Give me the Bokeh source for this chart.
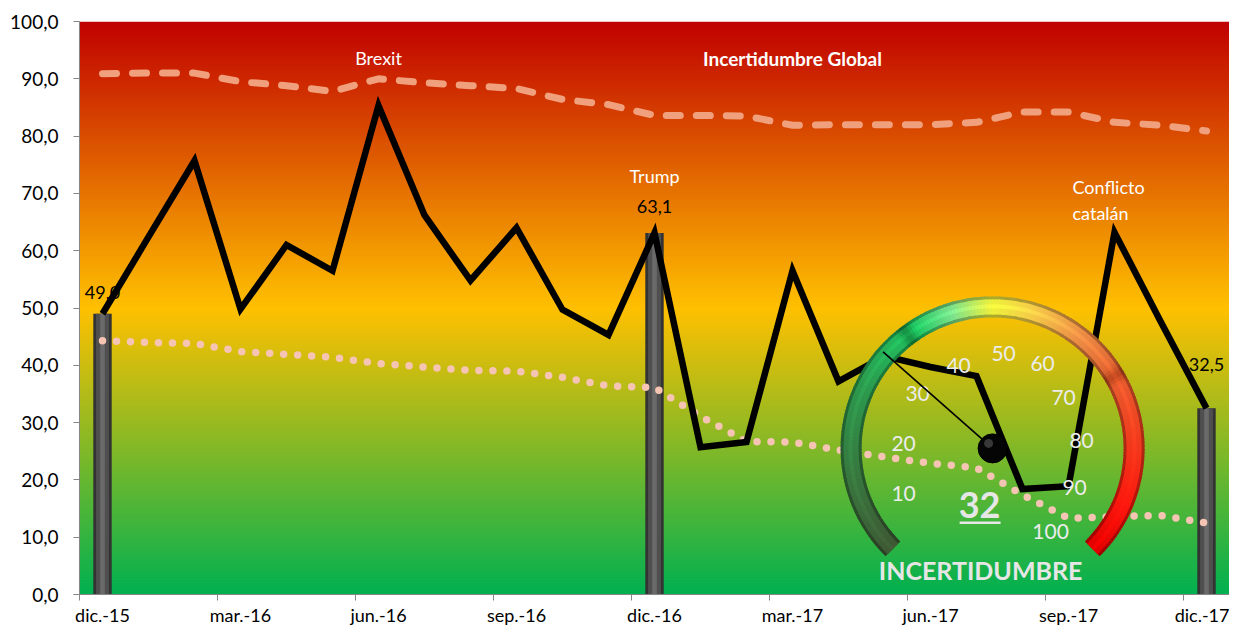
import math
import numpy as np
from bokeh.plotting import figure
from bokeh.models import FixedTicker
from bokeh.core.properties import value
from bokeh.embed import file_html
from bokeh.resources import INLINE

# ---------------- data ----------------
months = ["dic.-15", "ene.-16", "feb.-16", "mar.-16", "abr.-16", "may.-16",
          "jun.-16", "jul.-16", "ago.-16", "sep.-16", "oct.-16", "nov.-16",
          "dic.-16", "ene.-17", "feb.-17", "mar.-17", "abr.-17", "may.-17",
          "jun.-17", "jul.-17", "ago.-17", "sep.-17", "oct.-17", "nov.-17",
          "dic.-17"]
incertidumbre = [49.0, 62.4, 75.7, 49.8, 61.0, 56.5, 85.3, 66.2, 54.8, 64.0,
                 49.7, 45.3, 63.1, 25.7, 26.6, 56.5, 37.2, 41.6, 39.7, 38.1,
                 18.4, 18.9, 63.2, 47.7, 32.5]
incertidumbre_global = [90.9, 91.0, 91.0, 89.5, 88.8, 87.8, 90.0, 89.3, 88.8,
                        88.3, 86.4, 85.5, 83.6, 83.6, 83.5, 81.9, 82.0, 82.0,
                        82.0, 82.4, 84.2, 84.2, 82.4, 81.9, 80.9]
tendencia = [44.3, 44.0, 43.8, 42.4, 41.9, 41.4, 40.3, 39.7, 39.1, 39.0, 37.9,
             36.4, 36.1, 31.1, 26.7, 26.6, 25.2, 24.0, 22.9, 22.1, 17.4, 13.3,
             13.6, 13.8, 12.5]
bar_months = ["dic.-15", "dic.-16", "dic.-17"]
bar_values = [49.0, 63.1, 32.5]
bar_labels = ["49,0", "63,1", "32,5"]
tick_months = ["dic.-15", "mar.-16", "jun.-16", "sep.-16", "dic.-16",
               "mar.-17", "jun.-17", "sep.-17", "dic.-17"]
y_ticks = [0, 10, 20, 30, 40, 50, 60, 70, 80, 90, 100]
gauge_value = 32
gauge_scale = [10, 20, 30, 40, 50, 60, 70, 80, 90, 100]

# ---------------- layout / style ----------------
W, H = 1229, 628
LEFT, RIGHT, TOP, BOTTOM = 79, 0, 21, 30
FW = W - LEFT - RIGHT
FH = H - TOP - BOTTOM
n = len(months)
PX = FW / n
PY = FH / 100.0
FONT = "Lato"
idx = {m: i for i, m in enumerate(months)}
xs = list(range(n))

p = figure(width=W, height=H, x_range=(-0.5, n - 0.5), y_range=(0, 100),
           output_backend="svg", toolbar_location=None,
           min_border_left=LEFT, min_border_right=RIGHT,
           min_border_top=TOP, min_border_bottom=BOTTOM)
p.outline_line_color = None
p.background_fill_color = "white"

# gradient background (red -> gold -> green)
def lerp(c1, c2, t):
    return tuple(int(round(a + (b - a) * t)) for a, b in zip(c1, c2))

def bg_color(v):
    stops = [(0, (0, 176, 80)), (50, (255, 192, 0)), (100, (192, 0, 0))]
    for (v0, c0), (v1, c1) in zip(stops[:-1], stops[1:]):
        if v <= v1:
            return "#%02x%02x%02x" % lerp(c0, c1, (v - v0) / (v1 - v0))
    return "#%02x%02x%02x" % stops[-1][1]

edges = np.linspace(0, 100, 201)
mids = (edges[:-1] + edges[1:]) / 2
p.quad(left=-0.5, right=n - 0.5, bottom=edges[:-1], top=np.minimum(edges[1:] + 0.15, 100),
       fill_color=[bg_color(v) for v in mids], line_color=None)

# grid
p.xgrid.grid_line_color = None
p.ygrid.ticker = FixedTicker(ticks=y_ticks)
p.ygrid.grid_line_color = "#8c8c8c"
p.ygrid.grid_line_width = 1
p.ygrid.level = "underlay"

# axes
p.yaxis.ticker = FixedTicker(ticks=y_ticks)
p.yaxis.major_label_overrides = {v: ("%.1f" % v).replace(".", ",") for v in y_ticks}
p.yaxis.major_tick_out = 6
p.yaxis.major_tick_in = 0
p.yaxis.minor_tick_line_color = None
p.yaxis.axis_line_color = "#868686"
p.yaxis.major_tick_line_color = "#868686"
p.yaxis.major_label_text_font = FONT
p.yaxis.major_label_text_font_size = "19px"
p.yaxis.major_label_text_color = "#000000"
p.yaxis.major_label_standoff = 15

tick_idx = [idx[m] for m in tick_months]
p.xaxis.ticker = FixedTicker(ticks=tick_idx, minor_ticks=[i - 0.5 for i in tick_idx])
p.xaxis.major_label_overrides = {i: m for i, m in zip(tick_idx, tick_months)}
p.xaxis.major_tick_out = 0
p.xaxis.major_tick_in = 0
p.xaxis.minor_tick_out = 6
p.xaxis.minor_tick_in = 0
p.xaxis.minor_tick_line_color = "#868686"
p.xaxis.axis_line_color = "#868686"
p.xaxis.major_label_text_font = FONT
p.xaxis.major_label_text_font_size = "18px"
p.xaxis.major_label_text_color = "#000000"
p.xaxis.major_label_standoff = 3

# bars (cylinders)
bx = [idx[m] for m in bar_months]
p.vbar(x=bx, top=bar_values, bottom=0, width=0.40, fill_color="#333333", line_color=None)
p.vbar(x=bx, top=bar_values, bottom=0, width=0.28, fill_color="#4f4f4f", line_color=None)
p.vbar(x=bx, top=bar_values, bottom=0, width=0.10, fill_color="#6a6a6a", line_color=None)

# lines
p.line(xs, incertidumbre_global, line_color="#f0a07c", line_width=7,
       line_dash="14 16", line_cap="round", line_join="round")
p.line(xs, tendencia, line_color="#f5c4b2", line_width=7.5,
       line_dash="0 14", line_cap="round", line_join="round")
p.line(xs, incertidumbre, line_color="black", line_width=6.5, line_join="miter")

# data labels above bars
label_off = [21, 27, 44]
p.text(x=bx, y=[v + o / PY for v, o in zip(bar_values, label_off)], text=bar_labels,
       text_font=value(FONT), text_font_size="18px", text_color="#000000",
       text_align="center", text_baseline="middle")

# event annotations
p.text(x=[idx["jun.-16"]], y=[93.6], text=["Brexit"], text_font=value(FONT),
       text_font_size="18px", text_color="white", text_align="center", text_baseline="middle")
p.text(x=[idx["mar.-17"]], y=[93.6], text=["Incertidumbre Global"], text_font=value(FONT),
       text_font_size="19px", text_font_style="bold", text_color="white",
       text_align="center", text_baseline="middle")
p.text(x=[idx["dic.-16"]], y=[73.1], text=["Trump"], text_font=value(FONT),
       text_font_size="18px", text_color="white", text_align="center", text_baseline="middle")
cx_conf = idx["oct.-17"] - 42 / PX
p.text(x=[cx_conf, cx_conf], y=[71.2, 66.6], text=["Conflicto", "catalán"], text_font=value(FONT),
       text_font_size="18px", text_color="white", text_align="left", text_baseline="middle")

# ---------------- gauge ----------------
GX, GY = 19.35, 25.5      # centre (data coords)
R_OUT, R_IN = 152, 131    # screen px

def gauge_angle(v):
    return math.radians(225 - 2.7 * v)

arc_stops = [(0, (62, 88, 52)), (12, (56, 118, 62)), (25, (45, 150, 76)),
             (35, (35, 185, 92)), (36.5, (22, 140, 66)), (38, (32, 200, 100)),
             (44, (125, 226, 140)), (50, (238, 240, 60)), (56, (245, 205, 72)),
             (64, (236, 142, 70)), (70.5, (226, 104, 52)), (72, (185, 70, 30)),
             (73.5, (232, 90, 46)), (82, (240, 60, 30)), (92, (252, 24, 14)),
             (100, (225, 0, 0))]

def arc_color(v, k=1.0):
    for (v0, c0), (v1, c1) in zip(arc_stops[:-1], arc_stops[1:]):
        if v <= v1:
            c = lerp(c0, c1, (v - v0) / (v1 - v0))
            break
    else:
        c = arc_stops[-1][1]
    return "#%02x%02x%02x" % tuple(max(0, min(255, int(ch * k))) for ch in c)

seg_v = np.linspace(0, 100, 201)
starts, ends, c_dark, c_main, c_hi = [], [], [], [], []
for a, b in zip(seg_v[:-1], seg_v[1:]):
    starts.append(gauge_angle(b) - 0.004)
    ends.append(gauge_angle(a) + 0.004)
    m = (a + b) / 2
    c_dark.append(arc_color(m, 0.72))
    c_main.append(arc_color(m, 1.0))
    c_hi.append(arc_color(m, 1.12))
ns = len(starts)
p.annular_wedge(x=[GX] * ns, y=[GY] * ns, inner_radius=R_IN, outer_radius=R_OUT,
                inner_radius_units="screen", outer_radius_units="screen",
                start_angle=starts, end_angle=ends, fill_color=c_dark, line_color=None)
p.annular_wedge(x=[GX] * ns, y=[GY] * ns, inner_radius=R_IN + 3, outer_radius=R_OUT - 3,
                inner_radius_units="screen", outer_radius_units="screen",
                start_angle=starts, end_angle=ends, fill_color=c_main, line_color=None)
p.annular_wedge(x=[GX] * ns, y=[GY] * ns, inner_radius=R_IN + 9, outer_radius=R_OUT - 8,
                inner_radius_units="screen", outer_radius_units="screen",
                start_angle=starts, end_angle=ends, fill_color=c_hi, line_color=None,
                fill_alpha=0.6)

# scale numbers (screen offsets from the hub: right, down)
scale_offsets = [(-89, 45), (-89, -5), (-75, -55), (-34, -83), (11, -96),
                 (50, -85), (71, -51), (89, -8), (82, 39), (58, 84)]
lab_x = [GX + dx / PX for dx, dy in scale_offsets]
lab_y = [GY - dy / PY for dx, dy in scale_offsets]
p.text(x=lab_x, y=lab_y, text=[str(v) for v in gauge_scale], text_font=value(FONT),
       text_font_size="21px", text_color="#ececec", text_align="center", text_baseline="middle")

# needle + hub
p.ray(x=[GX], y=[GY], length=R_OUT - 6, length_units="screen", angle=gauge_angle(gauge_value),
      line_color="black", line_width=1.6)
p.scatter(x=[GX], y=[GY], size=29, fill_color="#050505", line_color="#000000")
p.scatter(x=[GX - 4 / PX], y=[GY + 5 / PY], size=9, fill_color="#5a5a5a", line_color=None, fill_alpha=0.6)

# value + caption
p.text(x=[GX - 13 / PX], y=[GY - 57 / PY], text=[str(gauge_value)], text_font=value(FONT),
       text_font_size="36px", text_font_style="bold", text_color="#e6e6e6",
       text_align="center", text_baseline="middle")
p.segment(x0=[GX - 33 / PX], x1=[GX + 8 / PX], y0=[GY - 75 / PY], y1=[GY - 75 / PY],
          line_color="#e6e6e6", line_width=2.5)
p.text(x=[GX - 12 / PX], y=[GY - 122 / PY], text=["INCERTIDUMBRE"], text_font=value(FONT),
       text_font_size="25px", text_font_style="bold", text_color="#e6e6e6",
       text_align="center", text_baseline="middle")

open("out.html", "w").write(file_html(p, INLINE))
